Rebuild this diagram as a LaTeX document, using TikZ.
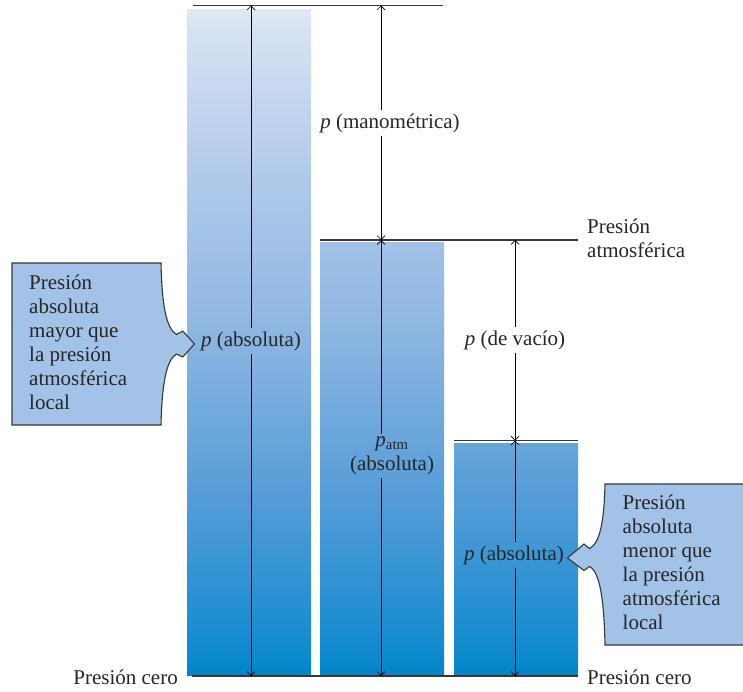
\documentclass[tikz,border=0pt]{standalone}
\usepackage{fontspec}
\setmainfont{Liberation Serif}
\usetikzlibrary{arrows.meta}
\definecolor{sA}{RGB}{224,233,247}
\definecolor{sB}{RGB}{214,226,243}
\definecolor{sC}{RGB}{178,202,235}
\definecolor{sD}{RGB}{144,184,226}
\definecolor{sE}{RGB}{84,156,215}
\definecolor{sF}{RGB}{22,140,208}
\definecolor{sG}{RGB}{0,132,200}
\pgfdeclareverticalshading{barshade}{100bp}{color(0bp)=(sG); color(25bp)=(sG); color(27.7bp)=(sF); color(38.2bp)=(sE); color(51.7bp)=(sD); color(62.9bp)=(sC); color(73.4bp)=(sB); color(75bp)=(sA); color(100bp)=(sA)}
\definecolor{boxfill}{RGB}{162,194,232}
\definecolor{linegray}{RGB}{55,55,55}
\begin{document}
\begin{tikzpicture}[x=1pt,y=-1pt,
  txt/.style={font=\fontsize{21}{24}\selectfont, inner sep=3pt, text=black!85},
  guide/.style={draw=linegray, line width=1.1pt},
  dim/.style={draw=black, line width=0.7pt, -{Straight Barb[length=4pt,width=8pt]}},
  callout/.style={fill=boxfill, draw=linegray, line width=1.1pt}]
\useasboundingbox (0,0) rectangle (743,691);
\clip (0,0) rectangle (743,691);
% bars
\begin{scope}
\clip (187,9) rectangle (311,676) (320,242) rectangle (444,676) (454,443) rectangle (578,676);
\shade[shading=barshade] (180,9) rectangle (585,676);
\end{scope}
% guide lines
\draw[guide] (193,5.5) -- (443,5.5);
\draw[guide] (320,240) -- (578,240);
\draw[guide] (454,440.5) -- (578,440.5);
\draw[guide] (192,676) -- (578,676);
% callouts
\path[callout] (12,263) -- (161,263) .. controls (162,305) and (166,328) .. (176.5,334.5) -- (182.7,331) -- (194.5,344) -- (182.7,357) -- (176.5,354) .. controls (166,360) and (162,385) .. (161,425) -- (12,425) -- cycle;
\path[callout] (746,484) -- (605,484) .. controls (604,522) and (600,543) .. (589.5,548.5) -- (584,544) -- (567.5,558) -- (584,570.5) -- (589.5,566.5) .. controls (600,572) and (604,600) .. (605,645) -- (746,645) -- cycle;
% coordinates
\coordinate (top1) at (251,5.5);
\coordinate (bot1) at (251,676);
\coordinate (top2) at (381,5.5);
\coordinate (atm2) at (381,240);
\coordinate (bot2) at (381,676);
\coordinate (atm3) at (515,240);
\coordinate (vac3) at (515,440.5);
\coordinate (bot3) at (515,676);
% labels
\node[txt] (mano) at (390,123) {\textit{p} (manométrica)};
\node[txt] (abs1) at (251,341) {\textit{p} (absoluta)};
\node[txt, align=center] (abs2) at (392,456) {\textit{p}\textsubscript{atm}\\(absoluta)};
\node[txt] (vac) at (515,340) {\textit{p} (de vacío)};
\node[txt] (abs3) at (514,555) {\textit{p} (absoluta)};
\node[txt, anchor=west, align=left] (atmlabel) at (584,238.5) {Presión\\atmosférica};
\node[txt, anchor=east] (zero1) at (181,677) {Presión cero};
\node[txt, anchor=west] (zero2) at (584,677) {Presión cero};
\node[txt, anchor=west, align=left] (note1) at (26,342) {Presión\\absoluta\\mayor que\\la presión\\atmosférica\\local};
\node[txt, anchor=west, align=left] (note2) at (619.5,562) {Presión\\absoluta\\menor que\\la presión\\atmosférica\\local};
% dimension arrows
\draw[dim] (abs1.north -| top1) -- (top1);
\draw[dim] (abs1.south -| bot1) -- (bot1);
\draw[dim] (mano.north -| top2) -- (top2);
\draw[dim] (mano.south -| atm2) -- (atm2);
\draw[dim] (abs2.north -| atm2) -- (atm2);
\draw[dim] (abs2.south -| bot2) -- (bot2);
\draw[dim] (vac.north -| atm3) -- (atm3);
\draw[dim] (vac.south -| vac3) -- (vac3);
\draw[dim] (abs3.north -| vac3) -- (vac3);
\draw[dim] (abs3.south -| bot3) -- (bot3);
\end{tikzpicture}
\end{document}
